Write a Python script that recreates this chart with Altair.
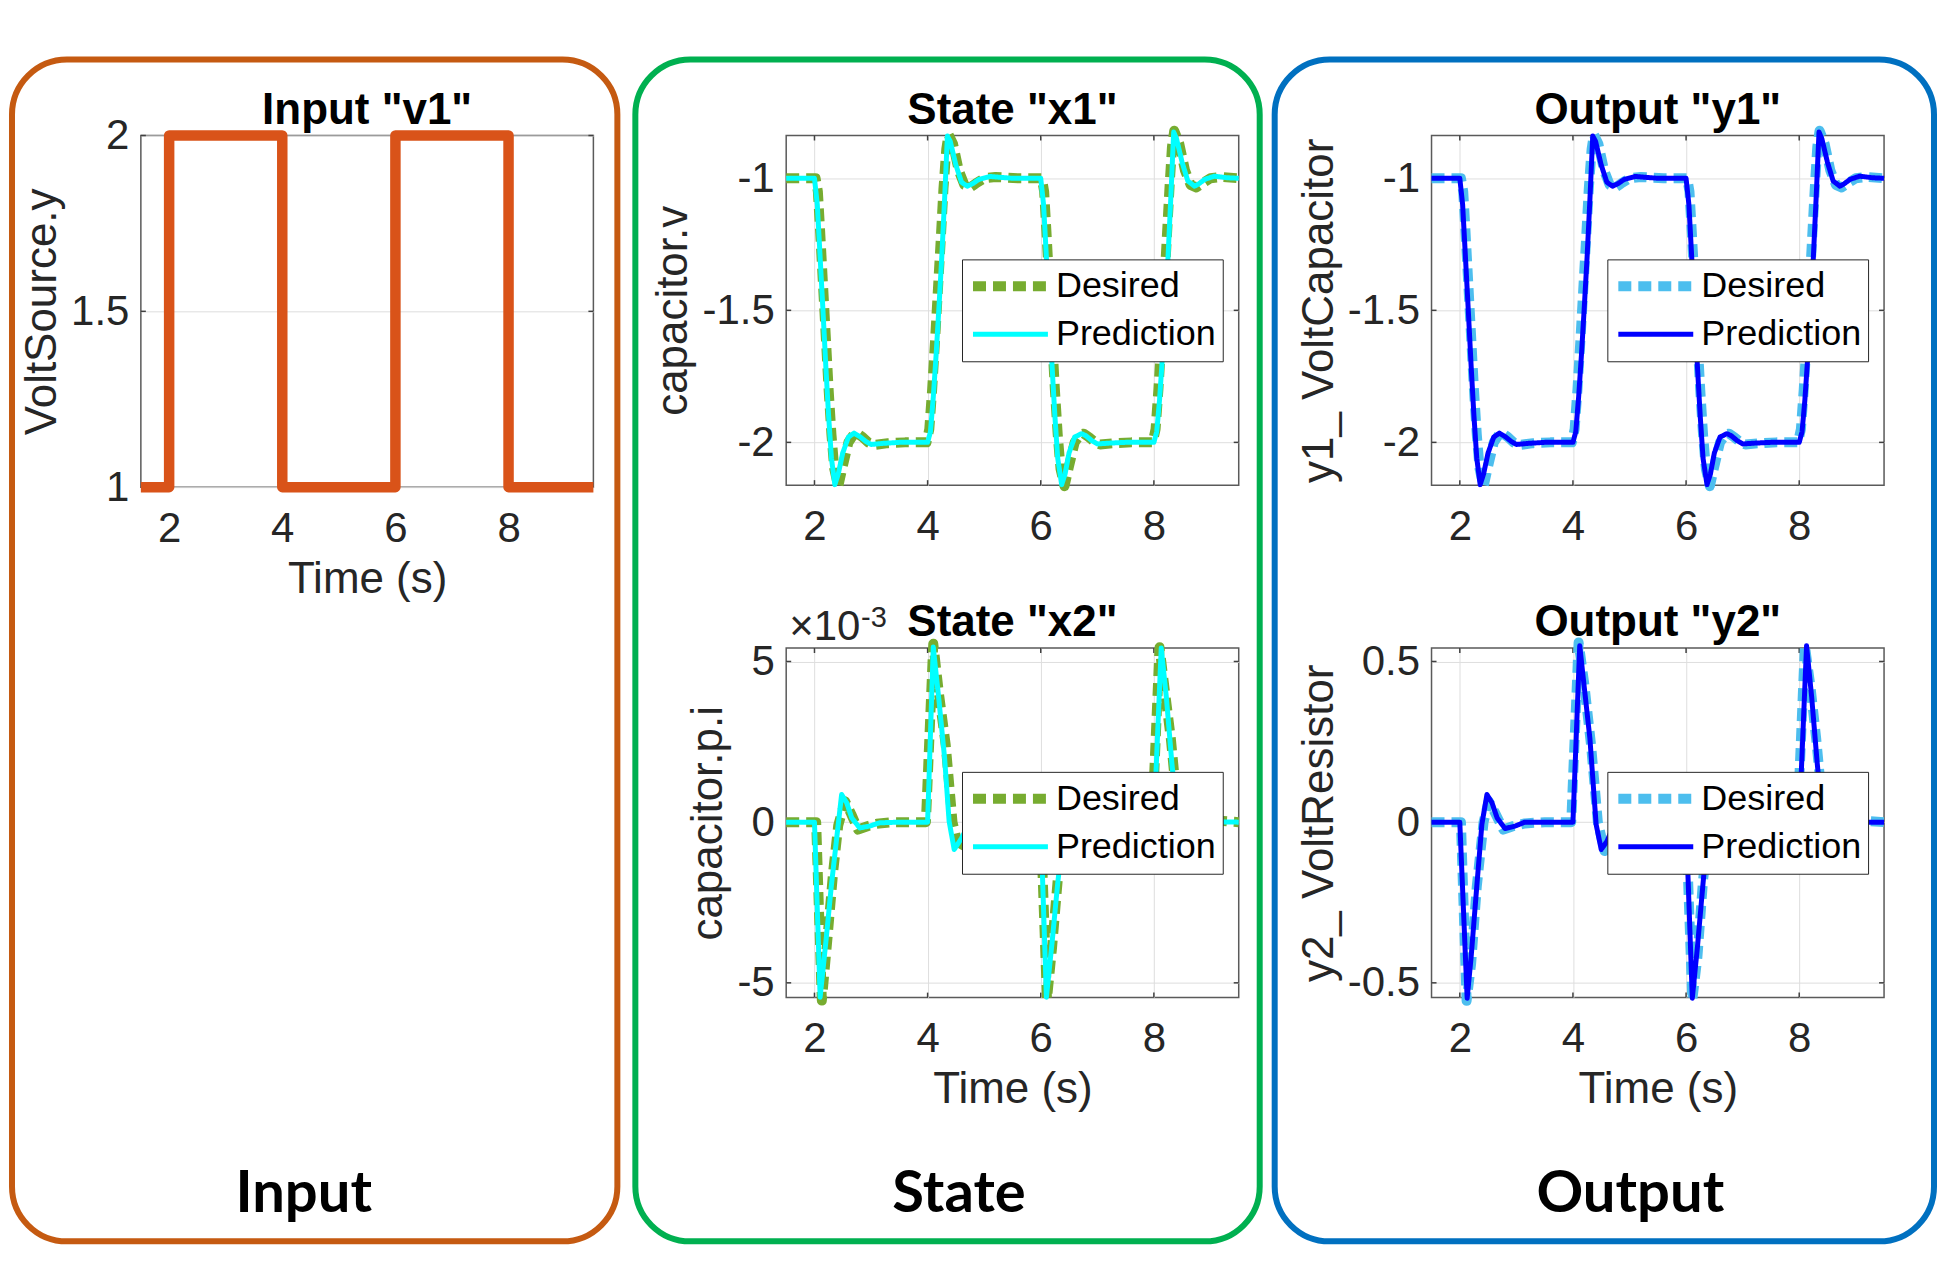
import altair as alt
import pandas as pd

FONT = "Liberation Sans"
TXT = "#262626"

# ---------------- data ----------------
X_DOMAIN = [1.5, 9.5]
X_TICKS = [2, 4, 6, 8]

# Input "v1": square wave
IN_T = [1.5, 2, 2, 4, 4, 6, 6, 8, 8, 9.5]
IN_V = [1, 1, 2, 2, 1, 1, 2, 2, 1, 1]

# State "x1" (capacitor.v) - (time, value)
X1_DES = [(1.5, -1.0), (2.02, -1.0), (2.06, -1.05), (2.1, -1.2), (2.15, -1.4), (2.2, -1.6), (2.25, -1.8),
          (2.3, -1.97), (2.35, -2.1), (2.42, -2.166), (2.5, -2.09), (2.6, -2.0), (2.7, -1.968), (2.75, -1.965),
          (2.85, -1.98), (2.95, -2.0), (3.05, -2.01), (3.3, -2.003), (3.6, -2.0), (3.98, -2.0), (4.03, -1.95),
          (4.08, -1.8), (4.13, -1.62), (4.18, -1.43), (4.23, -1.24), (4.28, -1.04), (4.33, -0.89), (4.37, -0.835),
          (4.45, -0.87), (4.55, -0.97), (4.65, -1.025), (4.75, -1.035), (4.85, -1.02), (5.0, -1.0), (5.2, -0.995),
          (5.6, -1.0), (6.02, -1.0), (6.06, -1.05), (6.1, -1.2), (6.15, -1.4), (6.2, -1.6), (6.25, -1.8),
          (6.3, -1.97), (6.35, -2.1), (6.42, -2.166), (6.5, -2.09), (6.6, -2.0), (6.7, -1.97), (6.76, -1.967),
          (6.85, -1.98), (6.95, -1.998), (7.05, -2.008), (7.3, -2.003), (7.6, -2.0), (7.98, -2.0), (8.03, -1.95),
          (8.08, -1.8), (8.13, -1.62), (8.18, -1.42), (8.23, -1.22), (8.28, -1.02), (8.32, -0.88), (8.36, -0.82),
          (8.45, -0.87), (8.55, -0.97), (8.65, -1.025), (8.75, -1.035), (8.85, -1.02), (9.0, -1.0), (9.2, -0.995),
          (9.5, -1.0)]
X1_PRED = [(1.5, -1.0), (2.0, -1.0), (2.05, -1.1), (2.1, -1.3), (2.15, -1.5), (2.2, -1.71), (2.25, -1.9),
           (2.3, -2.06), (2.36, -2.16), (2.42, -2.12), (2.5, -2.04), (2.6, -1.98), (2.7, -1.965), (2.8, -1.978),
           (2.9, -1.995), (3.0, -2.008), (3.2, -2.004), (3.5, -2.0), (4.0, -2.0), (4.05, -1.96), (4.1, -1.83),
           (4.15, -1.67), (4.2, -1.49), (4.25, -1.3), (4.3, -1.08), (4.35, -0.84), (4.4, -0.86), (4.5, -0.95),
           (4.6, -1.015), (4.7, -1.03), (4.8, -1.02), (4.9, -1.005), (5.1, -0.993), (5.5, -1.0), (6.0, -1.0),
           (6.05, -1.1), (6.1, -1.3), (6.15, -1.5), (6.2, -1.71), (6.25, -1.9), (6.3, -2.06), (6.37, -2.16),
           (6.43, -2.12), (6.5, -2.04), (6.6, -1.98), (6.72, -1.967), (6.8, -1.975), (6.9, -1.993), (7.0, -2.006),
           (7.2, -2.003), (7.5, -2.0), (8.0, -2.0), (8.05, -1.96), (8.1, -1.84), (8.15, -1.68), (8.2, -1.5),
           (8.25, -1.3), (8.3, -1.07), (8.35, -0.825), (8.4, -0.85), (8.5, -0.94), (8.6, -1.01), (8.72, -1.03),
           (8.8, -1.02), (8.9, -1.004), (9.07, -0.992), (9.3, -0.998), (9.5, -1.0)]

# State "x2" (capacitor.p.i), in units of 1e-3
X2_DES = [(1.5, 0), (2.03, 0), (2.13, -5.55), (2.23, -3.6), (2.33, -1.55), (2.42, -0.1), (2.54, 0.65),
          (2.65, 0.25), (2.77, -0.23), (2.95, -0.12), (3.1, -0.05), (3.4, 0), (3.97, 0), (4.1, 5.55), (4.2, 4.0),
          (4.32, 2.4), (4.44, 0.0), (4.56, -0.9), (4.7, -0.45), (4.85, 0.0), (5.0, 0.1), (5.2, 0.03), (5.5, 0),
          (6.0, 0), (6.11, -5.5), (6.2, -3.9), (6.3, -1.8), (6.42, 0), (6.54, 0.65), (6.65, 0.25), (6.77, -0.22),
          (7.1, -0.05), (7.4, 0), (7.97, 0), (8.1, 5.44), (8.2, 4.0), (8.3, 2.6), (8.44, 0), (8.56, -0.9),
          (8.75, -0.3), (8.9, 0.05), (9.1, 0.05), (9.5, 0)]
X2_PRED = [(1.5, 0), (2.0, 0), (2.1, -5.45), (2.2, -3.75), (2.3, -1.95), (2.42, -0.07), (2.48, 0.86),
           (2.57, 0.6), (2.66, 0.13), (2.8, -0.18), (2.98, -0.12), (3.15, -0.02), (3.5, 0), (4.0, 0), (4.1, 5.45),
           (4.2, 3.8), (4.3, 2.0), (4.38, 0.03), (4.47, -0.85), (4.6, -0.5), (4.72, -0.08), (4.85, 0.12),
           (5.0, 0.1), (5.2, 0.02), (5.5, 0), (6.0, 0), (6.1, -5.45), (6.2, -3.75), (6.3, -1.9), (6.42, -0.05),
           (6.48, 0.85), (6.57, 0.6), (6.66, 0.12), (6.8, -0.18), (7.0, -0.1), (7.2, 0), (8.0, 0), (8.13, 5.42),
           (8.22, 3.9), (8.32, 1.8), (8.42, 0.0), (8.5, -0.85), (8.62, -0.5), (8.75, -0.08), (8.9, 0.12),
           (9.05, 0.08), (9.2, 0.01), (9.5, 0)]

# Output "y1" (y1_VoltCapacitor): same curves as capacitor.v in the picture
Y1_DES = X1_DES
Y1_PRED = X1_PRED

# Output "y2" (y2_VoltResistor)
Y2_DES = [(1.5, 0), (2.02, 0), (2.12, -0.556), (2.2, -0.44), (2.3, -0.2), (2.42, 0.0), (2.51, 0.065),
          (2.62, 0.03), (2.77, -0.023), (2.95, -0.012), (3.15, -0.004), (3.5, 0), (3.97, 0), (4.1, 0.559),
          (4.2, 0.43), (4.32, 0.24), (4.44, 0.0), (4.56, -0.09), (4.7, -0.045), (4.85, 0.0), (5.0, 0.01),
          (5.3, 0), (6.0, 0), (6.11, -0.553), (6.2, -0.42), (6.3, -0.18), (6.42, 0), (6.53, 0.065), (6.64, 0.03),
          (6.77, -0.022), (7.1, -0.005), (7.4, 0), (7.97, 0), (8.1, 0.549), (8.2, 0.42), (8.3, 0.26), (8.44, 0),
          (8.56, -0.09), (8.75, -0.03), (8.9, 0.005), (9.1, 0.005), (9.5, 0)]
Y2_PRED = [(1.5, 0), (2.0, 0), (2.13, -0.548), (2.2, -0.42), (2.3, -0.2), (2.39, -0.007), (2.48, 0.086),
           (2.57, 0.06), (2.66, 0.013), (2.8, -0.02), (2.98, -0.012), (3.15, 0), (4.0, 0), (4.12, 0.549),
           (4.2, 0.42), (4.3, 0.26), (4.41, -0.007), (4.5, -0.085), (4.6, -0.06), (4.72, -0.01), (4.85, 0.012),
           (5.0, 0.01), (5.3, 0), (6.0, 0), (6.11, -0.548), (6.2, -0.39), (6.3, -0.19), (6.4, 0), (6.48, 0.085),
           (6.57, 0.06), (6.66, 0.012), (6.8, -0.02), (7.0, -0.01), (7.2, 0), (8.0, 0), (8.13, 0.549),
           (8.22, 0.39), (8.32, 0.18), (8.42, 0), (8.5, -0.085), (8.6, -0.06), (8.72, -0.01), (8.85, 0.012),
           (9.0, 0.01), (9.2, 0), (9.5, 0)]

SERIES = ["Desired", "Prediction"]

# ---------------- helpers ----------------
PW, PH = 453, 350
TICK_LEN = 5
TICK_COLOR = "#404040"


def xenc(title):
    return alt.X("t:Q", scale=alt.Scale(domain=X_DOMAIN, nice=False, zero=False),
                 axis=alt.Axis(values=X_TICKS, title=title, labelExpr="datum.value + ''"))


def yenc(domain, ticks, title):
    return alt.Y("v:Q", scale=alt.Scale(domain=domain, nice=False, zero=False),
                 axis=alt.Axis(values=ticks, title=title, labelExpr="datum.value + ''"))


def tick_layers(xtitle, ydom, yticks, ytitle, h):
    """MATLAB-style inward ticks on all four sides, placed through the scales."""
    xt = pd.DataFrame({"t": X_TICKS})
    yt = pd.DataFrame({"v": yticks})
    base_x = alt.Chart(xt).mark_rule(color=TICK_COLOR, strokeWidth=1.5)
    base_y = alt.Chart(yt).mark_rule(color=TICK_COLOR, strokeWidth=1.5)
    return [
        base_x.encode(x=xenc(xtitle), y=alt.value(0), y2=alt.value(TICK_LEN)),
        base_x.encode(x=xenc(xtitle), y=alt.value(h - TICK_LEN), y2=alt.value(h)),
        base_y.encode(y=yenc(ydom, yticks, ytitle), x=alt.value(0), x2=alt.value(TICK_LEN)),
        base_y.encode(y=yenc(ydom, yticks, ytitle), x=alt.value(PW - TICK_LEN), x2=alt.value(PW)),
    ]


def title_layer(text):
    return alt.Chart(pd.DataFrame({"s": [text]})).mark_text(
        font=FONT, fontSize=44, fontWeight="bold", color="black", align="center", baseline="alphabetic"
    ).encode(text="s:N", x=alt.value(PW / 2), y=alt.value(-12))


def curve_df(des, pred):
    return pd.DataFrame({
        "t": [p[0] for p in des] + [p[0] for p in pred],
        "v": [p[1] for p in des] + [p[1] for p in pred],
        "series": ["Desired"] * len(des) + ["Prediction"] * len(pred),
        "idx": list(range(len(des))) + list(range(len(pred))),
    })


def legend():
    return alt.Legend(orient="none", legendX=176, legendY=124, title=None, symbolType="stroke",
                      symbolSize=5625, clipHeight=42, rowPadding=6, padding=6, labelOffset=3,
                      labelFont=FONT, labelFontSize=36, labelColor="black", labelLimit=400,
                      fillColor="white", strokeColor=TXT, direction="vertical")


def curve_layer(des, pred, cdes, cpred, ydom, yticks, ytitle, xtitle):
    return alt.Chart(curve_df(des, pred)).mark_line(strokeJoin="round").encode(
        x=xenc(xtitle),
        y=yenc(ydom, yticks, ytitle),
        color=alt.Color("series:N", scale=alt.Scale(domain=SERIES, range=[cdes, cpred]), legend=legend()),
        strokeDash=alt.StrokeDash("series:N", scale=alt.Scale(domain=SERIES, range=[[13, 7], [1, 0]]),
                                  legend=legend()),
        strokeWidth=alt.StrokeWidth("series:N", scale=alt.Scale(domain=SERIES, range=[10, 5], type="point",
                                                                padding=0), legend=legend()),
        order="idx:Q",
    )


def box_layers(x1, x2, color, label, lx):
    rect = alt.Chart(pd.DataFrame({"k": [0]})).mark_rect(
        filled=False, stroke=color, strokeWidth=6, cornerRadius=55
    ).encode(x=alt.value(x1), x2=alt.value(x2), y=alt.value(-76), y2=alt.value(1107))
    txt = alt.Chart(pd.DataFrame({"label": [label]})).mark_text(
        font="Lato", fontSize=58, fontWeight="bold", color="black", align="center", baseline="alphabetic"
    ).encode(text="label:N", x=alt.value(lx), y=alt.value(1078))
    return [rect, txt]


# ---------------- panels ----------------
in_df = pd.DataFrame({"t": IN_T, "v": IN_V, "idx": list(range(len(IN_T)))})
in_line = alt.Chart(in_df).mark_line(color="#D95319", strokeWidth=10.5, strokeJoin="round").encode(
    x=xenc("Time (s)"), y=yenc([1, 2], [1, 1.5, 2], "VoltSource.y"), order="idx:Q")
p_in = alt.layer(*box_layers(-129, 477, "#C55A11", "Input", 163),
                 *tick_layers("Time (s)", [1, 2], [1, 1.5, 2], "VoltSource.y", 352),
                 in_line, title_layer('Input "v1"')).properties(width=PW, height=352)

GREEN, CYAN = "#77AC30", "#00FFFF"
LBLUE, BLUE = "#4DBEEE", "#0000FF"

X1_DOM, X1_TK = [-2.162, -0.838], [-2, -1.5, -1]
p_x1 = alt.layer(*box_layers(-151, 474, "#00B050", "State", 173),
                 *tick_layers(None, X1_DOM, X1_TK, "capacitor.v", PH),
                 curve_layer(X1_DES, X1_PRED, GREEN, CYAN, X1_DOM, X1_TK, "capacitor.v", None),
                 title_layer('State "x1"')).properties(width=PW, height=PH)

exp_a = alt.Chart(pd.DataFrame({"s": ["\u00d710"]})).mark_text(
    font=FONT, fontSize=42, color=TXT, align="left", baseline="alphabetic"
).encode(text="s:N", x=alt.value(3), y=alt.value(-8))
exp_b = alt.Chart(pd.DataFrame({"s": ["-3"]})).mark_text(
    font=FONT, fontSize=29, color=TXT, align="left", baseline="alphabetic"
).encode(text="s:N", x=alt.value(75), y=alt.value(-21))

X2_DOM, X2_TK = [-5.46, 5.42], [-5, 0, 5]
p_x2 = alt.layer(*tick_layers("Time (s)", X2_DOM, X2_TK, "capacitor.p.i", PH),
                 curve_layer(X2_DES, X2_PRED, GREEN, CYAN, X2_DOM, X2_TK, "capacitor.p.i", "Time (s)"),
                 exp_a, exp_b, title_layer('State "x2"')).properties(width=PW, height=PH)

p_y1 = alt.layer(*box_layers(-157, 503, "#0070C0", "Output", 199),
                 *tick_layers(None, X1_DOM, X1_TK, "y1_ VoltCapacitor", PH),
                 curve_layer(Y1_DES, Y1_PRED, LBLUE, BLUE, X1_DOM, X1_TK, "y1_ VoltCapacitor", None),
                 title_layer('Output "y1"')).properties(width=PW, height=PH)

Y2_DOM, Y2_TK = [-0.546, 0.542], [-0.5, 0, 0.5]
p_y2 = alt.layer(*tick_layers("Time (s)", Y2_DOM, Y2_TK, "y2_ VoltResistor", PH),
                 curve_layer(Y2_DES, Y2_PRED, LBLUE, BLUE, Y2_DOM, Y2_TK, "y2_ VoltResistor", "Time (s)"),
                 title_layer('Output "y2"')).properties(width=PW, height=PH)

blank = alt.Chart(pd.DataFrame({"k": [0]})).mark_point(opacity=0).encode(
    x=alt.value(0), y=alt.value(0)
).properties(width=PW, height=PH, view=alt.ViewBackground(stroke="transparent"))

chart = alt.concat(p_in, p_x1, p_y1, blank, p_x2, p_y2, columns=3,
                   spacing={"row": 161, "column": 193}, bounds="flush").resolve_scale(
    color="independent", strokeDash="independent", strokeWidth="independent"
).resolve_legend(
    color="independent", strokeDash="independent", strokeWidth="independent"
).properties(
    padding={"left": 0, "top": 47, "right": 0, "bottom": 0}, background="white"
).configure_axis(
    labelFont=FONT, labelFontSize=42, labelColor=TXT, titleFont=FONT, titleFontSize=44,
    titleFontWeight="normal", titleColor=TXT, grid=True, gridColor="#dedede", gridWidth=1,
    ticks=False, domain=False, labelFlush=False, labelOverlap=False
).configure_axisX(labelPadding=21, titlePadding=8).configure_axisY(labelPadding=12, titlePadding=6
).configure_view(stroke="#5a5a5a", strokeWidth=1.5)

chart.save("out.html", embed_options={"renderer": "svg", "actions": False})
